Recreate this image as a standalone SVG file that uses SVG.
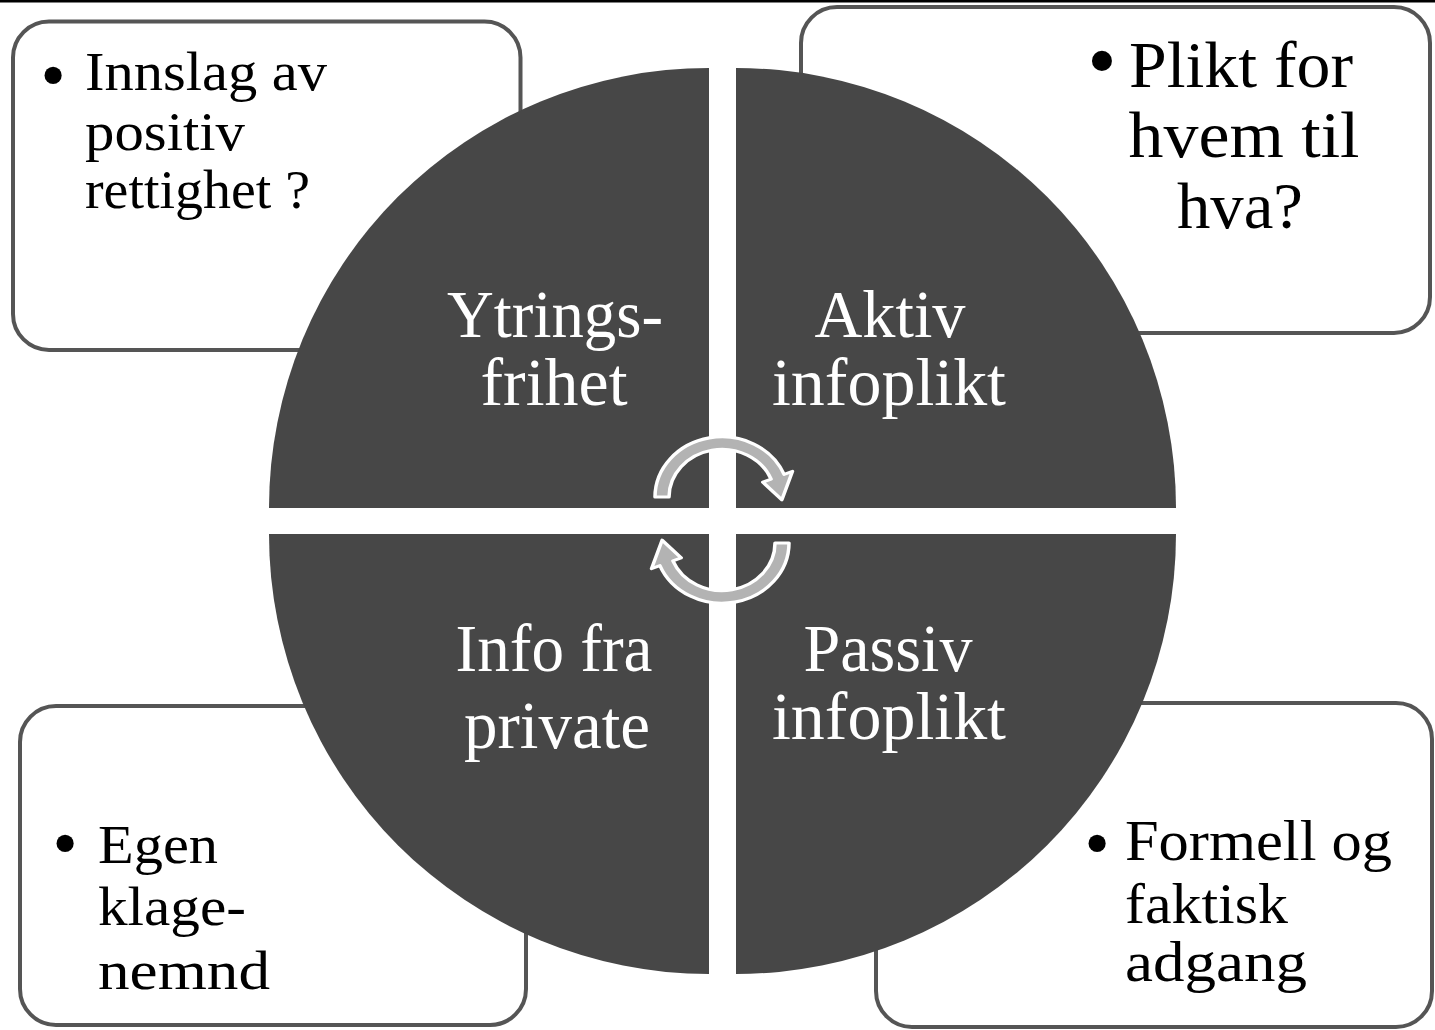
<svg xmlns="http://www.w3.org/2000/svg" width="1435" height="1030" viewBox="0 0 1435 1030">
  <style>
    .box { fill: #ffffff; stroke: #555555; stroke-width: 4; }
    .quad { fill: #474747; }
    .btxt { font-family: "Liberation Serif", "Times New Roman", serif; fill: #000000; }
    .bul { font-family: "Liberation Serif", "Times New Roman", serif; fill: #000000; text-anchor: middle; }
    .qtxt { font-family: "Liberation Serif", "Times New Roman", serif; fill: #ffffff; font-size: 67px; text-anchor: middle; }
    .arrow { fill: #b3b3b3; stroke: #ffffff; stroke-width: 3.5; stroke-linejoin: round; }
  </style>
  <defs>
    <path id="circArrow" d="M -67 0 A 67 67 0 0 1 62.1 -25.1 L 70.5 -28.5 L 59.9 3.1 L 40.8 -16.5 L 49.1 -19.9 A 53 53 0 0 0 -53 0 Z"/>
  </defs>
  <rect x="0" y="0" width="1435" height="1030" fill="#ffffff"/>
  <rect x="0" y="0" width="1435" height="2.5" fill="#000000"/>

  <g id="box-top-left">
    <rect class="box" x="13" y="21.5" width="507.5" height="328.5" rx="36" ry="36"/>
    <text class="bul" x="53" y="99" font-size="72">•</text>
    <text class="btxt" x="85" y="90" font-size="54" textLength="242" lengthAdjust="spacingAndGlyphs">Innslag av</text>
    <text class="btxt" x="85" y="150" font-size="54" textLength="160" lengthAdjust="spacingAndGlyphs">positiv</text>
    <text class="btxt" x="85" y="208" font-size="54" textLength="225" lengthAdjust="spacingAndGlyphs">rettighet ?</text>
  </g>

  <g id="box-top-right">
    <rect class="box" x="801" y="7" width="629" height="326" rx="36" ry="36"/>
    <text class="bul" x="1102" y="89" font-size="84">•</text>
    <text class="btxt" x="1241" y="87" font-size="66" text-anchor="middle" textLength="224" lengthAdjust="spacingAndGlyphs">Plikt for</text>
    <text class="btxt" x="1244" y="157" font-size="66" text-anchor="middle" textLength="231" lengthAdjust="spacingAndGlyphs">hvem til</text>
    <text class="btxt" x="1240" y="228" font-size="66" text-anchor="middle" textLength="126" lengthAdjust="spacingAndGlyphs">hva?</text>
  </g>

  <g id="box-bottom-left">
    <rect class="box" x="20" y="706" width="506" height="319" rx="36" ry="36"/>
    <text class="bul" x="65" y="867" font-size="72">•</text>
    <text class="btxt" x="98" y="863" font-size="54" textLength="120" lengthAdjust="spacingAndGlyphs">Egen</text>
    <text class="btxt" x="98" y="925" font-size="54" textLength="148" lengthAdjust="spacingAndGlyphs">klage-</text>
    <text class="btxt" x="98" y="989" font-size="54" textLength="172" lengthAdjust="spacingAndGlyphs">nemnd</text>
  </g>

  <g id="box-bottom-right">
    <rect class="box" x="876" y="703" width="556" height="324" rx="36" ry="36"/>
    <text class="bul" x="1097" y="867" font-size="72">•</text>
    <text class="btxt" x="1125" y="860" font-size="56" textLength="267" lengthAdjust="spacingAndGlyphs">Formell og</text>
    <text class="btxt" x="1125" y="923" font-size="56" textLength="163" lengthAdjust="spacingAndGlyphs">faktisk</text>
    <text class="btxt" x="1125" y="981" font-size="56" textLength="182" lengthAdjust="spacingAndGlyphs">adgang</text>
  </g>

  <g id="quad-ytringsfrihet">
    <path class="quad" d="M 709 508 L 269 508 A 440 440 0 0 1 709 68 Z"/>
    <text class="qtxt" x="555" y="337" textLength="216" lengthAdjust="spacingAndGlyphs">Ytrings-</text>
    <text class="qtxt" x="554" y="405" textLength="147" lengthAdjust="spacingAndGlyphs">frihet</text>
  </g>

  <g id="quad-aktiv">
    <path class="quad" d="M 736 508 L 736 68 A 440 440 0 0 1 1176 508 Z"/>
    <text class="qtxt" x="890" y="337" textLength="151" lengthAdjust="spacingAndGlyphs">Aktiv</text>
    <text class="qtxt" x="889" y="405" textLength="234" lengthAdjust="spacingAndGlyphs">infoplikt</text>
  </g>

  <g id="quad-passiv">
    <path class="quad" d="M 736 534 L 1176 534 A 440 440 0 0 1 736 974 Z"/>
    <text class="qtxt" x="888" y="671" textLength="169" lengthAdjust="spacingAndGlyphs">Passiv</text>
    <text class="qtxt" x="889" y="739" textLength="234" lengthAdjust="spacingAndGlyphs">infoplikt</text>
  </g>

  <g id="quad-info-fra-private">
    <path class="quad" d="M 709 534 L 709 974 A 440 440 0 0 1 269 534 Z"/>
    <text class="qtxt" x="554" y="671" textLength="197" lengthAdjust="spacingAndGlyphs">Info fra</text>
    <text class="qtxt" x="557" y="748" textLength="186" lengthAdjust="spacingAndGlyphs">private</text>
  </g>

  <g id="connectors">
    <use href="#circArrow" class="arrow" transform="translate(722,497) scale(1,0.9)"/>
    <use href="#circArrow" class="arrow" transform="translate(722,543) rotate(180) scale(1,0.9)"/>
  </g>
</svg>
